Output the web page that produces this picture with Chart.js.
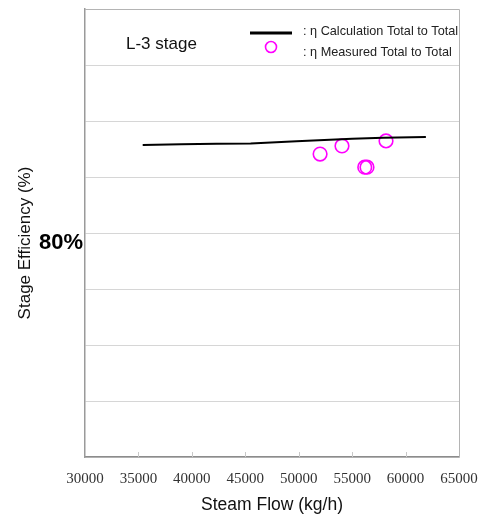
<!DOCTYPE html>
<html>
<head>
<meta charset="utf-8">
<script src="https://cdn.jsdelivr.net/npm/chart.js@4.4.0/dist/chart.umd.min.js"></script>
<style>
  html, body { margin: 0; padding: 0; background: #fff; }
  #wrap { width: 485px; height: 514px; }
</style>
</head>
<body>
<div id="wrap"><canvas id="chart"></canvas></div>
<script>
// values
const calcFlow = [35400, 39000, 42300, 45500, 49800, 55000, 57900, 61900];
const calcEff = [83.14, 83.17, 83.19, 83.20, 83.28, 83.37, 83.40, 83.43];
const measFlow = [52000, 54050, 58170, 56180, 56390];
const measEff = [82.82, 83.11, 83.29, 82.35, 82.35];
const xTicks = [30000, 35000, 40000, 45000, 50000, 55000, 60000, 65000];
const yLabelled = 80;

const sansFont = "'Liberation Sans', Arial, sans-serif";
const serifFont = "'Liberation Serif', 'Times New Roman', serif";

// small inward ticks on the x axis, frame, stage label, legend and y title
const decorations = {
  id: 'decorations',
  afterDraw(chart) {
    const ctx = chart.ctx;
    const area = chart.chartArea;
    const xs = chart.scales.x;
    ctx.save();

    // top and right frame
    ctx.strokeStyle = '#b4b4b4';
    ctx.lineWidth = 1;
    ctx.beginPath();
    ctx.moveTo(area.left, area.top + 0.5);
    ctx.lineTo(area.right + 0.5, area.top + 0.5);
    ctx.lineTo(area.right + 0.5, area.bottom);
    ctx.stroke();

    // tick marks pointing into the plot
    ctx.strokeStyle = '#c8c8c8';
    xTicks.slice(1, -1).forEach(v => {
      const px = Math.round(xs.getPixelForValue(v)) + 0.5;
      ctx.beginPath();
      ctx.moveTo(px, area.bottom);
      ctx.lineTo(px, area.bottom - 5);
      ctx.stroke();
    });

    // stage label
    ctx.fillStyle = '#111';
    ctx.font = '17px ' + sansFont;
    ctx.textBaseline = 'middle';
    ctx.textAlign = 'left';
    ctx.fillText('L-3 stage', 126, 44);

    // legend
    const ds = chart.data.datasets;
    ctx.strokeStyle = '#000';
    ctx.lineWidth = 3;
    ctx.beginPath();
    ctx.moveTo(250, 33);
    ctx.lineTo(292, 33);
    ctx.stroke();
    ctx.strokeStyle = '#ff00ff';
    ctx.lineWidth = 1.6;
    ctx.beginPath();
    ctx.arc(271, 47, 5.5, 0, Math.PI * 2);
    ctx.stroke();
    ctx.fillStyle = '#222';
    ctx.font = '12.7px ' + sansFont;
    ctx.fillText(': ' + ds[0].label, 303, 31);
    ctx.fillText(': ' + ds[1].label, 303, 52);

    // y axis title
    ctx.translate(25, 243);
    ctx.rotate(-Math.PI / 2);
    ctx.textAlign = 'center';
    ctx.font = '17px ' + sansFont;
    ctx.fillStyle = '#111';
    ctx.fillText('Stage Efficiency (%)', 0, 0);
    ctx.restore();
  }
};

new Chart(document.getElementById('chart'), {
  type: 'scatter',
  data: {
    datasets: [
      {
        label: 'η Calculation Total to Total',
        data: calcFlow.map((x, i) => ({ x: x, y: calcEff[i] })),
        showLine: true,
        borderColor: '#000',
        borderWidth: 2,
        pointRadius: 0,
        tension: 0
      },
      {
        label: 'η Measured Total to Total',
        data: measFlow.map((x, i) => ({ x: x, y: measEff[i] })),
        showLine: false,
        borderColor: '#ff00ff',
        backgroundColor: 'rgba(0,0,0,0)',
        borderWidth: 1.6,
        pointRadius: 6.8
      }
    ]
  },
  options: {
    responsive: true,
    maintainAspectRatio: false,
    animation: false,
    layout: { padding: { left: 0, right: 26, top: 9, bottom: 0 } },
    plugins: {
      legend: { display: false },
      tooltip: { enabled: false }
    },
    scales: {
      x: {
        type: 'linear',
        min: 30000,
        max: 65000,
        afterBuildTicks(scale) {
          scale.ticks = xTicks.map(v => ({ value: v }));
        },
        afterFit(scale) {
          scale.height = 57;
          scale.paddingLeft = 0;
          scale.paddingRight = 0;
        },
        grid: { display: false, drawTicks: false },
        border: { display: true, color: '#8c8c8c', width: 1.5 },
        ticks: {
          padding: 13,
          maxRotation: 0,
          autoSkip: false,
          color: '#333',
          font: { family: serifFont, size: 15 },
          callback: v => String(v)
        },
        title: {
          display: true,
          text: 'Steam Flow (kg/h)',
          color: '#111',
          font: { family: sansFont, size: 17.5 },
          padding: { top: 0, bottom: -2 }
        }
      },
      y: {
        min: 72,
        max: 88,
        afterFit(scale) {
          scale.width = 85;
          scale.paddingTop = 0;
          scale.paddingBottom = 0;
        },
        grid: { color: '#d6d6d6', lineWidth: 1, drawTicks: false },
        border: { display: true, color: '#9a9a9a', width: 1.5 },
        ticks: {
          stepSize: 2,
          padding: 2,
          labelOffset: 10,
          color: '#000',
          font: { family: sansFont, size: 22, weight: 'bold' },
          callback: v => (Math.abs(v - yLabelled) < 0.01 ? '80%' : '')
        }
      }
    }
  },
  plugins: [decorations]
});
</script>
</body>
</html>
